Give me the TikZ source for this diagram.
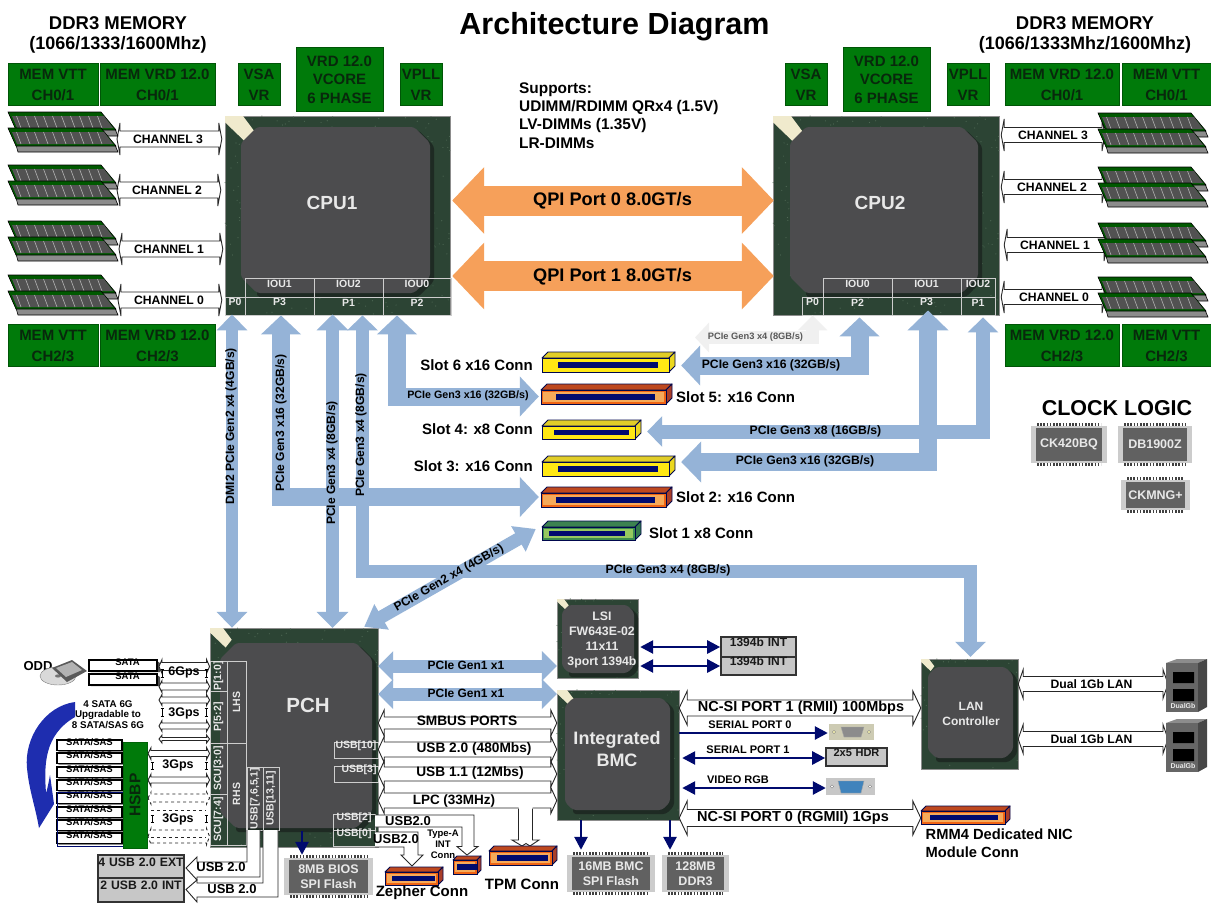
\documentclass[tikz,border=0pt]{standalone}
\usepackage{fontspec}
\setmainfont{Liberation Sans}
\usetikzlibrary{arrows.meta,fit,calc}
\definecolor{busblue}{RGB}{149,179,215}
\definecolor{qpi}{RGB}{246,160,90}
\definecolor{vrgreen}{RGB}{0,122,10}
\definecolor{vrtext}{RGB}{8,40,12}
\definecolor{chipgreen}{RGB}{44,68,52}
\definecolor{chipinner}{RGB}{76,76,78}
\definecolor{chipshadow}{RGB}{30,42,35}
\definecolor{dotgreen}{RGB}{78,104,84}
\definecolor{cream}{RGB}{240,234,205}
\definecolor{navybus}{RGB}{0,10,110}
\definecolor{royal}{RGB}{30,45,175}
\definecolor{cellline}{RGB}{205,205,205}
\definecolor{chiptxt}{RGB}{232,232,232}
\definecolor{faceY}{RGB}{255,232,20}\definecolor{topY}{RGB}{225,205,40}\definecolor{sideY}{RGB}{235,215,30}\definecolor{ringY}{RGB}{255,232,20}
\definecolor{faceO}{RGB}{240,100,20}\definecolor{topO}{RGB}{190,72,30}\definecolor{sideO}{RGB}{170,62,40}\definecolor{ringO}{RGB}{245,170,90}
\definecolor{faceG}{RGB}{60,140,80}\definecolor{topG}{RGB}{60,130,80}\definecolor{sideG}{RGB}{50,120,75}\definecolor{ringG}{RGB}{150,200,95}
\newcounter{lab}
\tikzset{
  fs/.style 2 args={font=\fontsize{#1pt}{#2pt}\selectfont\bfseries},
  txt/.style={inner sep=0pt,align=center,text=black},
  ltxt/.style={inner sep=0pt,align=left,anchor=west,text=black},
  chiplab/.style={inner sep=0pt,align=center,text=chiptxt},
  vrbox/.style={fill=vrgreen,draw=vrgreen!70!black,line width=.8pt},
  vrlab/.style={inner sep=0pt,text=vrtext,align=center,fs={15}{21}},
  vrtlab/.style={inner sep=0pt,text=vrtext,align=center,fs={15}{18.4}},
  cellbox/.style={draw=cellline,line width=.9pt,text=chiptxt,align=center,fs={10.5}{12}},
  hollow/.style={fill=white,draw=black!85,line width=.9pt,line join=miter},
  busS/.style n args={3}{draw=busblue,line width=#1pt,arrows={-Triangle[width=#2pt,length=#3pt]}},
  busD/.style n args={3}{draw=busblue,line width=#1pt,arrows={Triangle[width=#2pt,length=#3pt]-Triangle[width=#2pt,length=#3pt]}},
  qpibus/.style={draw=qpi,line width=30pt,arrows={Triangle[width=65pt,length=32pt]-Triangle[width=65pt,length=32pt]}},
  navyS/.style={draw=navybus,line width=2.6pt,arrows={-Triangle[width=13pt,length=13pt]}},
  navyD/.style={draw=navybus,line width=2.6pt,arrows={Triangle[width=13pt,length=13pt]-Triangle[width=13pt,length=13pt]}},
  greybox/.style={fill=black!22,draw=black!80,line width=1.6pt,align=center,text=black!90},
  sata/.style={fill=white,draw=black,line width=1.1pt,align=center,fs={9.5}{11}},
}
\newcommand{\tlab}[4][]{\stepcounter{lab}\node[txt,#1] (t\arabic{lab}) at (#2,#3) {#4};}
\newcommand{\bx}[6][]{\node[fit={(#3,#4)(#5,#6)},inner sep=0pt,#1] (#2) {};}
\newcommand{\bxt}[7][]{\node[fit={(#3,#4)(#5,#6)},inner sep=0pt,#1] (#2) {#7};}
\newcommand{\vrb}[6]{\node[fit={(#2,#3)(#4,#5)},inner sep=0pt,vrbox] (#1) {};\stepcounter{lab}\node[vrlab] (t\arabic{lab}) at ($(#1.center)+(0,.5)$) {#6};}
\newcommand{\vrt}[6]{\node[fit={(#2,#3)(#4,#5)},inner sep=0pt,vrbox] (#1) {};\stepcounter{lab}\node[vrtlab] (t\arabic{lab}) at ($(#1.center)+(0,.5)$) {#6};}
\newcommand{\dbl}[6][]{\filldraw[hollow,#1] let \p1=#2,\p2=#3 in
  (\x1,\y1) -- (\x1+#6pt,\y1+#5pt) -- (\x1+#6pt,\y1+#4pt) -- (\x2-#6pt,\y1+#4pt) -- (\x2-#6pt,\y1+#5pt) -- (\x2,\y1)
  -- (\x2-#6pt,\y1-#5pt) -- (\x2-#6pt,\y1-#4pt) -- (\x1+#6pt,\y1-#4pt) -- (\x1+#6pt,\y1-#5pt) -- cycle;}
% BGA chip: set \chipC chamfer, \chipK notch, \chipN dot count before
\newcommand{\bga}[9]{%
  \node[fit={(#2,#3)(#4,#5)},inner sep=0pt,fill=chipgreen,draw=black!45,line width=.4pt] (#1) {};
  \pgfmathsetseed{4242}
  \foreach \i in {1,...,\chipN}{\pgfmathsetmacro\px{#2+rnd*(#4-#2)}\pgfmathsetmacro\py{#3+rnd*(#5-#3)}\fill[dotgreen] (\px,\py) circle (.6);}
  \fill[cream] (#2,#3) -- ({#2+\chipK},#3) -- ({#2+1.67*\chipK},{#3+.9*\chipK}) -- ({#2+1.2*\chipK},{#3+1.5*\chipK}) -- (#2,{#3+.35*\chipK}) -- cycle;
  \fill[chipshadow,rounded corners=3pt] ({#6+\chipC},{#7+3}) -- ({#8-\chipC+4},{#7+3}) -- ({#8+4},{#7+\chipC+3}) -- ({#8+4},{#9-\chipC+4}) -- ({#8-\chipC+4},{#9+4}) -- ({#6+\chipC},{#9+4}) -- cycle;
  \fill[chipinner,rounded corners=3pt] ({#6+\chipC},#7) -- ({#8-\chipC},#7) -- (#8,{#7+\chipC}) -- (#8,{#9-\chipC}) -- ({#8-\chipC},#9) -- ({#6+\chipC},#9) -- (#6,{#9-\chipC}) -- (#6,{#7+\chipC}) -- cycle;
}
% memory DIMM pair
\newcommand{\dimmod}[2]{%
  \begin{scope}[shift={(#1,#2)}]
    \filldraw[fill=black!45,draw=black,line width=.6pt] (8,17) -- (107,17) -- (110,24) -- (10,24) -- cycle;
    \filldraw[fill=green!35!black,draw=black,line width=.6pt] (0,0) -- (93,0) -- (108,18) -- (8,18) -- cycle;
    \fill[black!68] (4,4) -- (96,4) -- (105,16) -- (9,16) -- cycle;
    \foreach \i in {0,...,9}{\draw[black!30,line width=.6pt] ({8.5+9*\i},4) -- ({13+9*\i},16);}
  \end{scope}}
\newcommand{\dimm}[3]{\node[inner sep=0pt,minimum size=0pt] (#1) at ({#2+55},{#3+21}) {}; \dimmod{#2}{#3}\dimmod{#2}{#3+16}}
% slot connector
\newcommand{\slot}[9]{%
  \node[fit={(#2,#3)(#4,#5)},inner sep=0pt] (#1) {};
  \filldraw[fill=top#9,draw=navybus!70!black,line width=.9pt,line join=round] (#2,{#3+#6}) -- ({#2+#6},#3) -- (#4,#3) -- ({#4-#6},{#3+#6}) -- cycle;
  \filldraw[fill=side#9,draw=navybus!70!black,line width=.9pt,line join=round] ({#4-#6},{#3+#6}) -- (#4,#3) -- (#4,{#5-#6}) -- ({#4-#6},#5) -- cycle;
  \filldraw[fill=face#9,draw=navybus!70!black,line width=1pt] (#2,{#3+#6}) rectangle ({#4-#6},#5);
  \fill[ring#9] ({#2+2},{#3+#6+2}) rectangle ({#4-#6-2},{#5-2});
  \fill[navybus] ({#2+#7},{(#3+#6+#5)/2-2.6}) rectangle ({#4-#8},{(#3+#6+#5)/2+2.8});
}
% small IC with pins
\newcommand{\ic}[6]{%
  \node[fit={(#2,#3)(#4,#5)},inner sep=0pt] (#1) {};
  \fill[black!20] (#2,{#3+3}) rectangle (#4,{#5-3});
  \draw[black!75,line width=3pt,dash pattern=on 1.6pt off 1.6pt] ({#2+6},{#3+1.5}) -- ({#4-6},{#3+1.5}) ({#2+6},{#5-1.5}) -- ({#4-6},{#5-1.5});
  \fill[black!62] ({#2+5},{#3+5}) rectangle ({#4-5},{#5-5});
  \stepcounter{lab}\node[chiplab,fs={12.5}{15.5}] (t\arabic{lab}) at ($(#1.center)$) {#6};
}
\newcommand{\satab}[6]{%
  \fill[black!70] (#4,{#3+1}) -- ({#4+3},{#3+3}) -- ({#4+3},{#5+1}) -- ({#2+2},{#5+1}) -- (#2,#5) -- (#4,#5) -- cycle;
  \node[fit={(#2,#3)(#4,#5)},inner sep=0pt,sata] (#1) {#6};
}
\newcommand{\rj}[3]{%
  \node[fit={(#2,#3)({#2+41},{#3+53})},inner sep=0pt] (#1) {};
  \fill[black!45] (#2,{#3+4}) -- ({#2+11},#3) -- ({#2+41},#3) -- ({#2+32},{#3+4}) -- cycle;
  \fill[black!72] ({#2+32},{#3+4}) -- ({#2+41},#3) -- ({#2+41},{#3+48}) -- ({#2+32},{#3+53}) -- cycle;
  \fill[black!60] (#2,{#3+4}) rectangle ({#2+32},{#3+53});
  \fill[black] ({#2+7},{#3+13}) rectangle ({#2+28},{#3+24}) ({#2+7},{#3+30}) rectangle ({#2+28},{#3+42});
  \stepcounter{lab}\node[chiplab,fs={7}{8}] (t\arabic{lab}) at ({#2+17},{#3+47}) {DualGb};
}
\begin{document}
\begin{tikzpicture}[x=1pt,y=-1pt]
\useasboundingbox (0,0) rectangle (1211,905);
\fill[white] (0,0) rectangle (1211,905);

% ---- titles
\tlab[fs={30.5}{32}]{614.5}{27}{Architecture Diagram}
\tlab[fs={18.5}{20}]{118}{23}{DDR3 MEMORY}
\tlab[fs={18}{20}]{118}{45}{(1066/1333/1600Mhz)}
\tlab[fs={18.5}{20}]{1085}{23}{DDR3 MEMORY}
\tlab[fs={18}{20}]{1085}{45}{(1066/1333Mhz/1600Mhz)}
\stepcounter{lab}\node[ltxt,fs={15.4}{18.2}] (t\arabic{lab}) at (519,115.5) {Supports:\\UDIMM/RDIMM QRx4 (1.5V)\\LV-DIMMs (1.35V)\\LR-DIMMs};

% ---- VR boxes
\vrb{vttA}{8}{63}{98}{105}{MEM VTT\\CH0/1}
\vrb{vrdA}{100}{63}{215}{105}{MEM VRD 12.0\\CH0/1}
\vrb{vsaA}{238}{63}{280}{105}{VSA\\VR}
\vrt{coreA}{296}{47}{383}{111}{VRD 12.0\\VCORE\\6 PHASE}
\vrb{pllA}{400}{63}{442}{105}{VPLL\\VR}
\vrb{vttB}{8}{324}{98}{366}{MEM VTT\\CH2/3}
\vrb{vrdB}{100}{324}{215}{366}{MEM VRD 12.0\\CH2/3}
\vrb{vsaC}{785}{63}{827}{105}{VSA\\VR}
\vrt{coreC}{843}{47}{930}{111}{VRD 12.0\\VCORE\\6 PHASE}
\vrb{pllC}{947}{63}{989}{105}{VPLL\\VR}
\vrb{vrdC}{1005}{63}{1119}{105}{MEM VRD 12.0\\CH0/1}
\vrb{vttC}{1122}{63}{1211}{105}{MEM VTT\\CH0/1}
\vrb{vrdD}{1005}{324}{1119}{366}{MEM VRD 12.0\\CH2/3}
\vrb{vttD}{1122}{324}{1211}{366}{MEM VTT\\CH2/3}

% ---- chips
\def\chipC{16}\def\chipK{18}\def\chipN{260}
\bga{cpuA}{225}{116}{450}{315}{241}{127}{430}{293}
\bga{cpuB}{773}{116}{999}{315}{790}{127}{978}{293}
\def\chipK{13}\def\chipN{220}
\bga{pch}{210}{628}{378}{847}{220}{643}{372}{828}
\def\chipC{7}\def\chipK{7}\def\chipN{70}
\bga{lsi}{557}{599}{638}{678}{562}{605}{634}{673}
\def\chipC{8}\def\chipK{10}\def\chipN{110}
\bga{bmc}{557}{690}{679}{820}{565}{698}{670}{810}
\def\chipK{8}\def\chipN{90}
\bga{lan}{921}{659}{1018}{769}{928}{667}{1013}{758}

\stepcounter{lab}\node[chiplab,fs={19}{21}] (t\arabic{lab}) at (332,203) {CPU1};
\stepcounter{lab}\node[chiplab,fs={19}{21}] (t\arabic{lab}) at (880,203) {CPU2};
\stepcounter{lab}\node[chiplab,fs={20.5}{22}] (t\arabic{lab}) at (308,705) {PCH};
\stepcounter{lab}\node[chiplab,fs={12.3}{15}] (t\arabic{lab}) at (602,639.5) {LSI\\FW643E-02\\11x11\\3port 1394b};
\stepcounter{lab}\node[chiplab,fs={18}{21.5}] (t\arabic{lab}) at (617,749) {Integrated\\BMC};
\stepcounter{lab}\node[chiplab,fs={12}{14.5}] (t\arabic{lab}) at (971,714) {LAN\\Controller};

% CPU1 table
\bxt[cellbox]{aI1}{245}{278}{314}{297}{IOU1}
\bxt[cellbox]{aI2}{314}{278}{383}{297}{IOU2}
\bxt[cellbox]{aI0}{383}{278}{451}{297}{IOU0}
\bxt[cellbox]{aP0}{225}{297}{245}{315}{P0}
\bxt[cellbox]{aP3}{245}{297}{314}{315}{P3}
\bxt[cellbox]{aP1}{314}{297}{383}{315}{P1}
\bxt[cellbox]{aP2}{383}{297}{451}{315}{P2}
% CPU2 table
\bxt[cellbox]{bI0}{823}{278}{892}{297}{IOU0}
\bxt[cellbox]{bI1}{892}{278}{961}{297}{IOU1}
\bxt[cellbox]{bI2}{961}{278}{995}{297}{IOU2}
\bxt[cellbox]{bP0}{802}{297}{823}{315}{P0}
\bxt[cellbox]{bP2}{823}{297}{892}{315}{P2}
\bxt[cellbox]{bP3}{892}{297}{961}{315}{P3}
\bxt[cellbox]{bP1}{961}{297}{995}{315}{P1}
% PCH table
\bx[cellbox]{pP10}{210}{661}{227}{691}\tlab[rotate=90,fs={10.5}{12},text=chiptxt]{218.5}{676}{P[1:0]}
\bx[cellbox]{pP52}{210}{691}{227}{743}\tlab[rotate=90,fs={10.5}{12},text=chiptxt]{218.5}{717}{P[5:2]}
\bx[cellbox]{pLHS}{227}{661}{246}{743}\tlab[rotate=90,fs={10.5}{12},text=chiptxt]{236.5}{702}{LHS}
\bx[cellbox]{pS30}{210}{743}{227}{794}\tlab[rotate=90,fs={10.5}{12},text=chiptxt]{218.5}{768.5}{SCU[3:0]}
\bx[cellbox]{pS74}{210}{794}{227}{845}\tlab[rotate=90,fs={10.5}{12},text=chiptxt]{218.5}{819.5}{SCU[7:4]}
\bx[cellbox]{pRHS}{227}{743}{246}{845}\tlab[rotate=90,fs={10.5}{12},text=chiptxt]{236.5}{794}{RHS}
\bx[cellbox]{pU75}{247}{767}{263}{830}\tlab[rotate=90,fs={10.5}{12},text=chiptxt]{255}{798.5}{USB[7,6,5,1]}
\bx[cellbox]{pU13}{263}{767}{279}{830}\tlab[rotate=90,fs={10.5}{12},text=chiptxt]{271}{798.5}{USB[13,11]}
\bxt[cellbox]{pU10}{334}{742}{378}{758}{USB[10]}
\bxt[cellbox]{pU3}{334}{766}{378}{782}{\hspace*{6pt}USB[3]}
\bxt[cellbox]{pU2}{333}{814}{375}{830}{USB[2]}
\bxt[cellbox]{pU0}{333}{830}{375}{846}{USB[0]}

% ---- blue buses
\draw[qpibus] ([xshift=2pt]cpuA.east |- 0,200.5) -- ([xshift=1pt]cpuB.west |- 0,200.5);
\draw[qpibus] ([xshift=2pt]cpuA.east |- 0,276) -- ([xshift=1pt]cpuB.west |- 0,276);

% slots first as named nodes
\slot{slotF}{542}{352}{675}{372}{6}{15.5}{17.5}{Y}
\slot{slotE}{541}{384}{672}{404}{6}{15}{17}{O}
\slot{slotD}{542}{420}{641}{439}{6}{11.5}{12}{Y}
\slot{slotC}{542}{456}{675}{476}{6}{15.5}{17.5}{Y}
\slot{slotB}{541}{487}{672}{507}{6}{15}{17}{O}
\slot{slotA}{542}{521}{641}{540}{6}{7}{16}{G}

\coordinate (dmiT) at ([xshift=-3pt,yshift=1pt]aP0.south);
\draw[busD={12}{30}{16}] (dmiT) -- (dmiT |- pch.north);
\coordinate (pThree) at ([xshift=1.5pt]aP3.south);
\draw[busD={18}{39}{19}] (pThree) |- ([xshift=-2pt]slotB.west);
\coordinate (pOneL) at ([xshift=-16pt,yshift=1pt]aP1.south);
\draw[busD={13}{31}{16}] (pOneL) -- (pOneL |- pch.north);
\coordinate (pOneR) at ([xshift=14pt]aP1.south);
\coordinate (lanT) at ([xshift=1pt,yshift=2pt]lan.north);
\draw[busD={13}{30}{15}] (pOneR) |- (lanT |- 0,571.5) -- (lanT);
\coordinate (pTwo) at ([xshift=-20pt]aP2.south);
\draw[busD={18}{39}{19}] (pTwo) |- ([xshift=-2pt,yshift=-2.5pt]slotE.west);
\draw[busD={13}{28}{20}] ([xshift=-14pt,yshift=1pt]pch.north east) -- ([xshift=-6pt,yshift=1.5pt]slotA.west);
\draw[busD={13}{29}{15}] (pch.east |- 0,666) -- (lsi.west |- 0,666);
\draw[busD={13}{29}{15}] (pch.east |- 0,694) -- (bmc.west |- 0,694);

\draw[draw=black!6,line width=13pt,arrows={Triangle[width=29pt,length=15pt]-Triangle[width=29pt,length=14pt]}] (bP0.south) |- (695,337.5);
\draw[busD={18}{39}{19}] ([xshift=2pt,yshift=-2pt]bP2.south) |- ([xshift=6pt,yshift=-3.5pt]slotF.east);
\draw[busD={18}{40}{20}] ([xshift=1.5pt,yshift=5pt]bP3.south) |- ([xshift=6pt,yshift=4pt]slotC.east);
\draw[busD={14}{30}{15}] ([xshift=5pt,yshift=-2pt]bP1.south) |- ([xshift=6pt,yshift=-2pt]slotD.east);

% bus labels
\tlab[fs={9.3}{11},text=black!65]{755.5}{337}{PCIe Gen3 x4 (8GB/s)}
\tlab[fs={12.2}{14}]{771}{365}{PCIe Gen3 x16 (32GB/s)}
\tlab[fs={10.7}{12}]{468}{396}{PCIe Gen3 x16 (32GB/s)}
\tlab[fs={12.2}{14}]{815.5}{431}{PCIe Gen3 x8 (16GB/s)}
\tlab[fs={12.2}{14}]{805}{461}{PCIe Gen3 x16 (32GB/s)}
\tlab[fs={12.2}{14}]{668}{570}{PCIe Gen3 x4 (8GB/s)}
\tlab[fs={12.1}{14},rotate=90]{231}{426}{DMI2 PCIe Gen2 x4 (4GB/s)}
\tlab[fs={12.1}{14},rotate=90]{281}{423}{PCIe Gen3 x16 (32GB/s)}
\tlab[fs={12.1}{14},rotate=90]{332}{463}{PCIe Gen3 x4 (8GB/s)}
\tlab[fs={12.1}{14},rotate=90]{361}{435}{PCIe Gen3 x4 (8GB/s)}
\tlab[fs={12.1}{14},rotate=29.7]{449}{578}{PCIe Gen2 x4 (4GB/s)}
\tlab[fs={18.2}{20}]{612.5}{200.5}{QPI Port 0 8.0GT/s}
\tlab[fs={18.2}{20}]{612.5}{276.5}{QPI Port 1 8.0GT/s}
\tlab[fs={12}{14}]{466}{665}{PCIe Gen1 x1}
\tlab[fs={12}{14}]{466}{693}{PCIe Gen1 x1}

% slot labels
\tikzset{slotl/.style={fs={15}{17}}}
\stepcounter{lab}\node[txt,slotl,anchor=east] (t\arabic{lab}) at (533,365) {Slot 6 x16 Conn};
\stepcounter{lab}\node[txt,slotl,anchor=west] (t\arabic{lab}) at (676,397) {Slot 5: x16 Conn};
\stepcounter{lab}\node[txt,slotl,anchor=east] (t\arabic{lab}) at (533,429) {Slot 4: x8 Conn};
\stepcounter{lab}\node[txt,slotl,anchor=east] (t\arabic{lab}) at (533,466) {Slot 3: x16 Conn};
\stepcounter{lab}\node[txt,slotl,anchor=west] (t\arabic{lab}) at (676,497) {Slot 2: x16 Conn};
\stepcounter{lab}\node[txt,slotl,anchor=west] (t\arabic{lab}) at (649,533) {Slot 1 x8 Conn};

% ---- memory channels
\dbl{(117,139)}{([xshift=-3pt]cpuA.west |- 0,139)}{8}{16}{3}
\dbl{(117,190)}{([xshift=-4pt]cpuA.west |- 0,190)}{8}{16}{3}
\dbl{(119,249)}{([xshift=-2pt]cpuA.west |- 0,249)}{8}{16}{3}
\dbl{(118,300)}{([xshift=-3pt]cpuA.west |- 0,300)}{8}{16}{3}
\dbl{([xshift=2pt]cpuB.east |- 0,135)}{(1105,135)}{7.5}{16}{3}
\dbl{([xshift=2pt]cpuB.east |- 0,187)}{(1105,187)}{7.5}{16}{3}
\dbl{([xshift=5pt]cpuB.east |- 0,245)}{(1107,245)}{7.5}{16}{3}
\dbl{([xshift=2pt]cpuB.east |- 0,297)}{(1105,297)}{7.5}{16}{3}
\foreach \nm/\xx/\yy in {dA/8/112,dB/8/165,dC/8/221,dD/8/275,dE/1098/113,dF/1098/167,dG/1098/223,dH/1098/277}{\dimm{\nm}{\xx}{\yy}}
\tikzset{chl/.style={fs={12.2}{14}}}
\tlab[chl]{168}{139}{CHANNEL 3}\tlab[chl]{167}{190}{CHANNEL 2}\tlab[chl]{169}{249}{CHANNEL 1}\tlab[chl]{169}{300}{CHANNEL 0}
\tlab[chl]{1053}{135}{CHANNEL 3}\tlab[chl]{1052}{187}{CHANNEL 2}\tlab[chl]{1055}{245}{CHANNEL 1}\tlab[chl]{1054}{297}{CHANNEL 0}

% ---- clock logic
\tlab[fs={21.5}{23}]{1117}{408}{CLOCK LOGIC}
\ic{ckA}{1031}{423}{1107}{466}{CK420BQ}
\ic{ckB}{1118}{423}{1192}{466}{DB1900Z}
\ic{ckC}{1121}{477}{1190}{513}{CKMNG+}

% ---- BMC side hollow buses
\dbl{(pch.east |- 0,723)}{(bmc.west |- 0,723)}{6}{13}{6}
\dbl{(pch.east |- 0,749.5)}{(bmc.west |- 0,749.5)}{7.5}{13}{6}
\dbl{(pch.east |- 0,774)}{(bmc.west |- 0,774)}{7}{13}{6}
\dbl{(pch.east |- 0,800.5)}{(bmc.west |- 0,800.5)}{7.5}{13}{6}
\tikzset{busl/.style={fs={13.7}{16}}}
\tlab[busl]{467}{721}{SMBUS PORTS}
\tlab[busl]{474}{749}{USB 2.0 (480Mbs)}
\tlab[busl]{470}{773}{USB 1.1 (12Mbs)}
\tlab[fs={13.5}{16}]{454}{801}{LPC (33MHz)}

% TPM branch
\fill[white] (518.5,806) -- (532.5,806) -- (532.5,840) -- (539,840) -- (530,846) -- (526,843.5) -- (522,846) -- (512,840) -- (518.5,840) -- cycle;
\draw[black!85,line width=.9pt] (532.5,808.5) -- (532.5,840) -- (539,840) -- (530,846) -- (526,843.5) -- (522,846) -- (512,840) -- (518.5,840) -- (518.5,808.5);
\slot{tpm}{489}{846}{557}{865}{5}{8}{9}{O}
\tlab[fs={15}{17}]{522}{884}{TPM Conn}

% USB elbows
\filldraw[hollow] (375,815) -- (474,815) -- (474,846.5) -- (478,846.5) -- (467,855) -- (457,846.5) -- (462,846.5) -- (462,827) -- (375,827);
\filldraw[hollow] (375,832) -- (418,832) -- (418,855) -- (423,855) -- (412,866) -- (401,855) -- (404,855) -- (404,847) -- (375,847);
\tlab[fs={13}{15}]{408}{821}{USB2.0}
\tlab[fs={13}{15}]{396}{839}{USB2.0}
\tlab[fs={9.5}{11}]{443}{844}{Type-A\\INT\\Conn}
\slot{zepher}{385}{867}{443}{885}{5}{7}{8}{O}
\tlab[fs={15}{17}]{422}{893}{Zepher Conn}
\slot{typeA}{453}{856}{481}{874}{4}{4}{4}{O}

\filldraw[hollow] (260,830) -- (260,877) -- (197,877) -- (197,880) -- (186,868) -- (197,857) -- (197,862) -- (247,862) -- (247,830);
\filldraw[hollow] (278,830) -- (278,897) -- (197,897) -- (197,902) -- (186,889.5) -- (197,880) -- (197,883) -- (263,883) -- (263,830);
\tlab[fs={13}{15}]{221}{867}{USB 2.0}
\tlab[fs={13}{15}]{232}{889}{USB 2.0}
\bxt[greybox,fs={12.2}{14}]{extU}{98}{855}{184}{878}{\mbox{4 USB 2.0 EXT}}
\bxt[greybox,fs={12.2}{14}]{intU}{98}{878}{184}{902}{\mbox{2 USB 2.0 INT}}

% ICs
\ic{bios}{284}{855}{373}{898}{8MB BIOS\\SPI Flash}
\ic{flash}{567}{852}{655}{895}{16MB BMC\\SPI Flash}
\ic{ddr}{662}{852}{729}{895}{128MB\\DDR3}
\coordinate (biosS) at (302,831);
\draw[navyS] (biosS) -- (biosS |- bios.north);
\draw[navyS] (581,0 |- bmc.south) -- ([yshift=2pt]581,0 |- flash.north);
\draw[navyS] (670,0 |- bmc.south) -- ([yshift=2pt]670,0 |- ddr.north);

% 1394
\bxt[greybox,fs={12}{14}]{fwA}{721}{637}{796}{657}{1394b INT}
\bxt[greybox,fs={12}{14}]{fwB}{721}{657}{796}{675}{1394b INT}
\draw[navyD] ([xshift=2pt]lsi.east |- fwA.west) -- (fwA.west);
\draw[navyD] ([xshift=2pt]lsi.east |- fwB.west) -- (fwB.west);

% NC-SI etc
\node[fit={(829,724)(874,740)},inner sep=0pt,fill=yellow!35!black!35!white] (dbn) {};
\fill[black!45,draw=black!35] (841,727) -- (864,727) -- (861,737) -- (844,737) -- cycle;
\draw[black!50,fill=yellow!30!white] (834,732) circle (1.7) (869,732) circle (1.7);
\bxt[greybox,fs={11}{13}]{hdr}{826}{748}{887}{766}{2x5 HDR}
\node[fit={(826,778)(875,795)},inner sep=0pt,fill=black!22] (vga) {};
\fill[teal!70!blue!75!white,draw=black!35] (838,781) -- (864,781) -- (861,793) -- (841,793) -- cycle;
\draw[black!50,fill=white] (832,786.5) circle (1.7) (870,786.5) circle (1.7);
\draw[navyS] (bmc.east |- 0,733) -- ([xshift=-1pt]dbn.west |- 0,733);
\draw[navyD] ([xshift=3pt]bmc.east |- 0,758) -- (hdr.west |- 0,758);
\draw[navyD] ([xshift=3pt]bmc.east |- 0,788) -- (vga.west |- 0,788);
\tlab[fs={11}{13}]{750}{725}{SERIAL PORT 0}
\tlab[fs={11}{13}]{748}{750}{SERIAL PORT 1}
\tlab[fs={11}{13}]{738}{780}{VIDEO RGB}
\dbl{(bmc.east |- 0,708)}{(lan.west |- 0,708)}{8}{17}{8}
\slot{rmm}{921}{806}{1010}{824}{5}{9}{12}{O}
\dbl{(bmc.east |- 0,818)}{(rmm.west |- 0,818)}{8.5}{17}{8}
\tlab[fs={14.5}{17}]{801}{708}{NC-SI PORT 1 (RMII) 100Mbps}
\tlab[fs={14.5}{17}]{793}{818}{NC-SI PORT 0 (RGMII) 1Gps}
\stepcounter{lab}\node[ltxt,fs={14.7}{18}] (t\arabic{lab}) at (925.5,843) {RMM4 Dedicated NIC\\Module Conn};

% LAN
\dbl{(lan.east |- 0,684)}{(1168,684)}{7.5}{14.5}{5}
\dbl{(lan.east |- 0,739)}{(1168,739)}{7.5}{14.5}{5}
\rj{rjA}{1166}{659}
\rj{rjB}{1166}{719}
\tlab[fs={12.2}{14}]{1091.5}{684}{Dual 1Gb LAN}
\tlab[fs={12.2}{14}]{1091.5}{739}{Dual 1Gb LAN}

% ---- SATA side
\tlab[fs={13}{15}]{38}{666}{ODD}
\filldraw[fill=black!15,draw=black!50,line width=.4pt] (58,676) ellipse (18 and 9);
\fill[black!55] (58,676) ellipse (3 and 1.6);
\fill[black!65] (52,668) -- (72,660) -- (87,671) -- (67,682) -- cycle;
\fill[black!30] (56,668) -- (72,662) -- (82,670) -- (66,677) -- cycle;
\satab{sataA}{89}{660}{157}{671}{\hspace*{9pt}SATA}
\satab{sataB}{89}{674}{157}{685}{\hspace*{9pt}SATA}
\dbl{(159,666.5)}{(pP10.west |- 0,666.5)}{4}{7}{3}
\dbl{(159,686.5)}{(pP10.west |- 0,686.5)}{3.5}{6}{3}
\dbl{(159,700)}{(pP52.west |- 0,700)}{3}{5.5}{3}
\dbl{(159,726)}{(pP52.west |- 0,726)}{3}{5.5}{3}
\dbl{(159,739)}{(pP52.west |- 0,739)}{1.5}{4}{3}
\dbl{(148,753.5)}{(pS30.west |- 0,753.5)}{3}{6}{3}
\dbl{(148,780)}{(pS30.west |- 0,780)}{3}{6}{3}
\dbl[dashed]{(148,798)}{(pS74.west |- 0,798)}{4}{6}{3}
\dbl[dashed]{(148,836.5)}{(pS74.west |- 0,836.5)}{6.5}{8}{3}
\draw[black!85,line width=.9pt,dashed] (151,810) -- (206,810) (151,837) -- (206,837);
\foreach \ya/\yb/\xa/\xb in {669/677/162/206,708/716/162/206,762/769/152/206,815/822/152/206}{
  \draw[black,line width=.7pt] (\xa-1.5,\ya) -- (\xa+1.5,\ya) (\xa,\ya) -- (\xa,\yb) (\xa-1.5,\yb) -- (\xa+1.5,\yb)
    (\xb-1.5,\ya) -- (\xb+1.5,\ya) (\xb,\ya) -- (\xb,\yb) (\xb-1.5,\yb) -- (\xb+1.5,\yb);}
\tlab[fs={12.5}{15}]{184}{672}{6Gps}
\tlab[fs={12.5}{15}]{184}{713}{3Gps}
\tlab[fs={12.5}{15}]{178}{765}{3Gps}
\tlab[fs={12.5}{15}]{178}{819}{3Gps}
\tlab[fs={9.8}{10.6}]{108}{714.5}{4 SATA 6G\\Upgradable to\\8 SATA/SAS 6G}
\fill[royal] (75,702) .. controls (45,706) and (24,738) .. (27,768) .. controls (29,790) and (35,805) .. (39,828) -- (54,804) -- (50,775) .. controls (48,786) and (47,790) .. (46,793) .. controls (44,765) and (44,735) .. (75,717) -- cycle;
\foreach \nm/\ya in {sB/740,sC/753,sD/767,sE/780,sF/793,sG/807,sH/820,sI/833}{
  \satab{\nm}{57}{\ya}{122}{\ya+10.5}{SATA/SAS}}
\draw[navybus,line width=1pt] (57,792) rectangle (125,846);
\bx[fill=vrgreen,draw=vrgreen!80!black]{hsbp}{123}{742}{147}{848}
\tlab[fs={15.5}{17},rotate=90,text=vrtext]{135}{795}{HSBP}
\end{tikzpicture}
\end{document}
